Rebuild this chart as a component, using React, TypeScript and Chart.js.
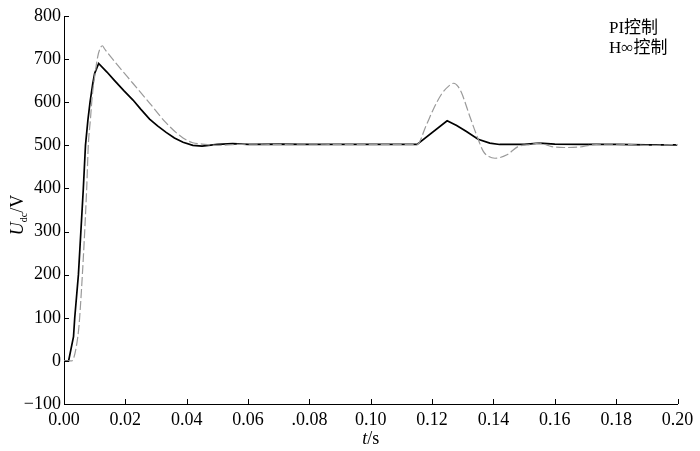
import React, { useEffect, useRef } from "react";
import { Chart, registerables } from "chart.js";

Chart.register(...registerables);

// H∞ control (solid black)
const hinfTime = [0, 0.0015, 0.0031, 0.0035, 0.0047, 0.0063, 0.007, 0.0078, 0.0085, 0.0094, 0.01, 0.0113, 0.014, 0.0165, 0.0195, 0.0225, 0.025, 0.0279, 0.0305, 0.0333, 0.036, 0.0388, 0.042, 0.045, 0.05, 0.055, 0.06, 0.07, 0.08, 0.09, 0.1, 0.11, 0.1151, 0.1249, 0.128, 0.1312, 0.135, 0.1388, 0.142, 0.15, 0.155, 0.16, 0.17, 0.18, 0.19, 0.2];
const hinfVolt = [0, 0, 56, 100, 200, 400, 500, 559, 601, 644, 667, 690, 670, 650, 627, 605, 584, 561, 545, 530, 517, 507, 500, 498, 502, 504, 502, 503, 502, 502, 502, 502, 502, 557, 546, 532, 514, 505, 502, 502, 505, 503, 502, 502, 501, 501];

// PI control (grey dashed)
const piTime = [0, 0.0025, 0.0031, 0.0045, 0.0051, 0.0074, 0.0079, 0.0086, 0.0092, 0.0103, 0.011, 0.0118, 0.0125, 0.0132, 0.017, 0.02245, 0.0279, 0.0333, 0.0388, 0.042, 0.045, 0.05, 0.06, 0.07, 0.08, 0.09, 0.1, 0.11, 0.1151, 0.118, 0.1203, 0.123, 0.1255, 0.1271, 0.1285, 0.1297, 0.1323, 0.1347, 0.1367, 0.1385, 0.1405, 0.1444, 0.148, 0.152, 0.155, 0.159, 0.163, 0.168, 0.172, 0.18, 0.19, 0.2];
const piVolt = [0, 0, 5, 56, 100, 400, 497, 559, 613, 675, 706, 725, 731, 724, 690, 644, 598, 552, 517, 506, 503, 500, 503, 502, 503, 502, 502, 502, 502, 545, 582, 618, 638, 644, 636, 620, 567, 520, 486, 474, 470, 478, 497, 502, 505, 497, 495, 496, 501, 503, 500, 502];

const seriesNames = ["PI控制", "H∞控制"];

const xTickValues = [0, 0.02, 0.04, 0.06, 0.08, 0.1, 0.12, 0.14, 0.16, 0.18, 0.2];
const xTickLabels = ["0.00", "0.02", "0.04", "0.06", ".0.08", "0.10", "0.12", "0.14", "0.16", "0.18", "0.20"];
const yTickValues = [-100, 0, 100, 200, 300, 400, 500, 600, 700, 800];
const yTickLabels = ["−100", "0", "100", "200", "300", "400", "500", "600", "700", "800"];

const SERIF = "'Liberation Serif', 'Times New Roman', 'Noto Sans CJK SC', serif";

const decorPlugin = {
  id: "decor",
  afterDraw(chart: any) {
    const ctx = chart.ctx;
    const xs = chart.scales.x;
    const ys = chart.scales.y;
    const area = chart.chartArea;
    ctx.save();
    // inward ticks
    ctx.strokeStyle = "#000";
    ctx.lineWidth = 1;
    ctx.beginPath();
    xTickValues.forEach((v) => {
      const px = Math.round(xs.getPixelForValue(v)) + 0.5;
      ctx.moveTo(px, area.bottom);
      ctx.lineTo(px, area.bottom - 5);
    });
    yTickValues.forEach((v) => {
      const py = Math.round(ys.getPixelForValue(v)) + 0.5;
      ctx.moveTo(area.left, py);
      ctx.lineTo(area.left + 5, py);
    });
    ctx.stroke();

    // x axis title: t/s
    ctx.fillStyle = "#000";
    ctx.textBaseline = "middle";
    ctx.textAlign = "left";
    const cx = (area.left + area.right) / 2;
    ctx.font = `italic 18px ${SERIF}`;
    const tW = ctx.measureText("t").width;
    ctx.font = `18px ${SERIF}`;
    const sW = ctx.measureText("/s").width;
    const x0 = cx - (tW + sW) / 2;
    ctx.font = `italic 18px ${SERIF}`;
    ctx.fillText("t", x0, 439);
    ctx.font = `18px ${SERIF}`;
    ctx.fillText("/s", x0 + tW, 439);

    // y axis title: U_dc/V
    ctx.save();
    ctx.translate(18, 215);
    ctx.rotate(-Math.PI / 2);
    ctx.font = `italic 18px ${SERIF}`;
    const uW = ctx.measureText("U").width;
    ctx.font = `10px ${SERIF}`;
    const dW = ctx.measureText("dc").width;
    ctx.font = `18px ${SERIF}`;
    const vW = ctx.measureText("/V").width;
    const s = -(uW + dW + vW) / 2;
    ctx.font = `italic 18px ${SERIF}`;
    ctx.fillText("U", s, 0);
    ctx.font = `10px ${SERIF}`;
    ctx.fillText("dc", s + uW, 6);
    ctx.font = `18px ${SERIF}`;
    ctx.fillText("/V", s + uW + dW, 0);
    ctx.restore();

    // legend (text only)
    ctx.font = `17px ${SERIF}`;
    ctx.textAlign = "left";
    ctx.fillText(seriesNames[0], 609, 29);
    ctx.fillText(seriesNames[1], 609, 49);
    ctx.restore();
  },
};

export default function App() {
  const ref = useRef<HTMLCanvasElement>(null);
  useEffect(() => {
    const canvas = ref.current;
    if (!canvas) return;
    const chart = new Chart(canvas, {
      type: "line",
      data: {
        datasets: [
          {
            label: seriesNames[0],
            data: piTime.map((t, i) => ({ x: t, y: piVolt[i] })),
            borderColor: "#9a9a9a",
            borderWidth: 1.2,
            borderDash: [9, 3],
            pointRadius: 0,
            cubicInterpolationMode: "monotone",
            fill: false,
          },
          {
            label: seriesNames[1],
            data: hinfTime.map((t, i) => ({ x: t, y: hinfVolt[i] })),
            borderColor: "#000000",
            borderWidth: 1.7,
            pointRadius: 0,
            tension: 0,
            fill: false,
          },
        ],
      },
      options: {
        responsive: false,
        animation: false,
        devicePixelRatio: 1,
        layout: { padding: { top: 16, right: 22.5, left: 0, bottom: 0 } },
        plugins: {
          legend: { display: false },
          tooltip: { enabled: false },
        },
        scales: {
          x: {
            type: "linear",
            min: 0,
            max: 0.2,
            grid: { display: false, drawTicks: false },
            border: { display: true, color: "#000", width: 1 },
            afterBuildTicks: (scale: any) => {
              scale.ticks = xTickValues.map((v) => ({ value: v }));
            },
            afterFit: (scale: any) => {
              scale.height = 47;
            },
            ticks: {
              padding: 5,
              maxRotation: 0,
              autoSkip: false,
              color: "#000",
              font: { family: SERIF, size: 18 },
              callback: (_v: any, i: number) => xTickLabels[i],
            },
          },
          y: {
            type: "linear",
            min: -100,
            max: 800,
            grid: { display: false, drawTicks: false },
            border: { display: true, color: "#000", width: 1 },
            afterBuildTicks: (scale: any) => {
              scale.ticks = yTickValues.map((v) => ({ value: v }));
            },
            afterFit: (scale: any) => {
              scale.width = 64;
            },
            ticks: {
              padding: 3,
              autoSkip: false,
              color: "#000",
              font: { family: SERIF, size: 18 },
              callback: (_v: any, i: number) => yTickLabels[i],
            },
          },
        },
      },
      plugins: [decorPlugin],
    });
    return () => chart.destroy();
  }, []);
  return (
    <div style={{ position: "absolute", left: 0, top: 0, width: 700, height: 451, background: "#fff" }}>
      <canvas ref={ref} width={700} height={451} style={{ display: "block" }} />
    </div>
  );
}
